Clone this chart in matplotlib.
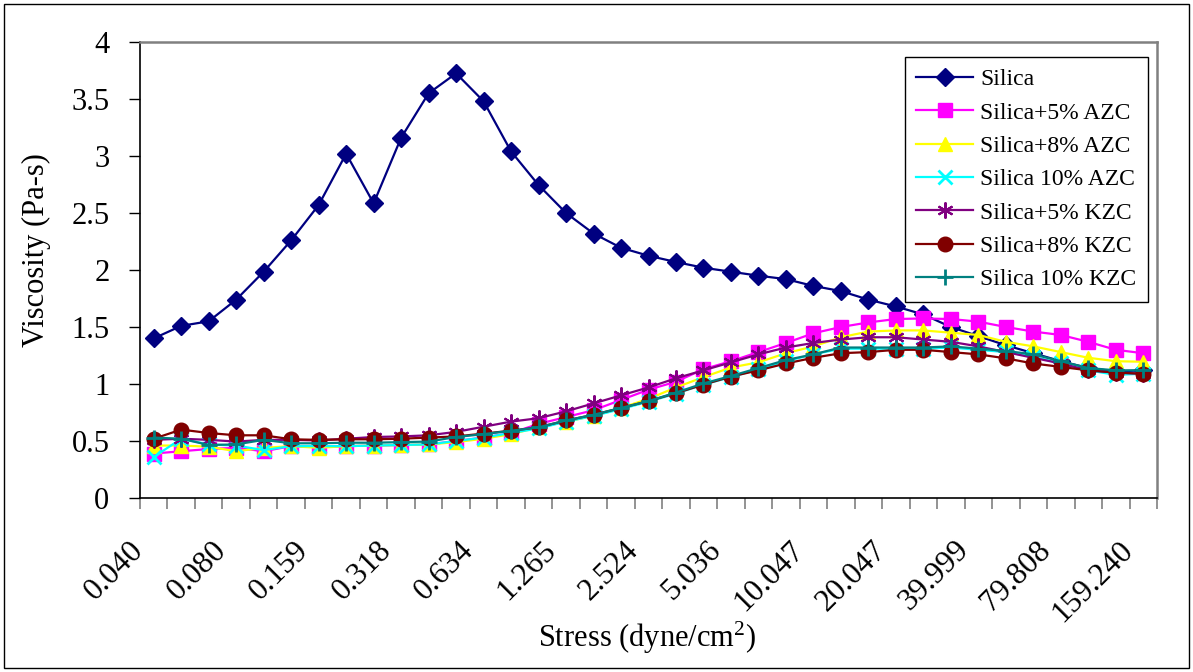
import numpy as np
import matplotlib
matplotlib.use('Agg')
import matplotlib.pyplot as plt
from matplotlib.patches import Rectangle
from matplotlib.transforms import ScaledTranslation

plt.rcParams['font.family'] = ['Liberation Serif', 'DejaVu Serif']
plt.rcParams['mathtext.fontset'] = 'custom'
plt.rcParams['mathtext.rm'] = 'Liberation Serif'
plt.rcParams['mathtext.it'] = 'Liberation Serif:italic'

# stress labels shown on every third category (dyne/cm2)
stress_labels = ['0.040', '0.080', '0.159', '0.318', '0.634', '1.265', '2.524',
                 '5.036', '10.047', '20.047', '39.999', '79.808', '159.240']

# viscosity (Pa-s) at each of the 37 stress steps
silica = [1.40, 1.51, 1.55, 1.74, 1.985, 2.26, 2.57, 3.02, 2.585, 3.16, 3.55, 3.725,
          3.48, 3.04, 2.745, 2.50, 2.32, 2.195, 2.125, 2.07, 2.02, 1.985, 1.95, 1.92,
          1.86, 1.815, 1.74, 1.68, 1.61, 1.50, 1.42, 1.34, 1.27, 1.20, 1.14, 1.11, 1.12]
azc5 = [0.39, 0.41, 0.43, 0.44, 0.41, 0.455, 0.445, 0.455, 0.46, 0.465, 0.47, 0.50,
        0.53, 0.57, 0.65, 0.71, 0.77, 0.86, 0.95, 1.02, 1.13, 1.20, 1.28, 1.36,
        1.445, 1.50, 1.54, 1.57, 1.575, 1.57, 1.547, 1.50, 1.46, 1.43, 1.37, 1.30, 1.27]
azc8 = [0.46, 0.46, 0.45, 0.41, 0.44, 0.455, 0.44, 0.455, 0.46, 0.465, 0.47, 0.49,
        0.52, 0.56, 0.62, 0.67, 0.72, 0.79, 0.87, 0.97, 1.06, 1.145, 1.19, 1.27,
        1.33, 1.41, 1.46, 1.47, 1.47, 1.45, 1.43, 1.37, 1.33, 1.28, 1.23, 1.20, 1.195]
azc10 = [0.36, 0.52, 0.47, 0.46, 0.42, 0.455, 0.455, 0.455, 0.46, 0.465, 0.47, 0.50,
         0.53, 0.57, 0.61, 0.67, 0.72, 0.78, 0.845, 0.915, 0.995, 1.06, 1.13, 1.20,
         1.26, 1.31, 1.31, 1.31, 1.31, 1.32, 1.30, 1.28, 1.24, 1.18, 1.12, 1.08, 1.09]
kzc5 = [0.51, 0.52, 0.51, 0.495, 0.51, 0.51, 0.505, 0.52, 0.535, 0.54, 0.55, 0.58,
        0.625, 0.67, 0.70, 0.76, 0.83, 0.90, 0.97, 1.05, 1.12, 1.19, 1.26, 1.32,
        1.36, 1.39, 1.41, 1.41, 1.39, 1.37, 1.33, 1.28, 1.23, 1.18, 1.12, 1.10, 1.09]
kzc8 = [0.52, 0.60, 0.57, 0.55, 0.55, 0.515, 0.51, 0.515, 0.515, 0.52, 0.53, 0.54,
        0.565, 0.59, 0.62, 0.68, 0.73, 0.79, 0.85, 0.92, 0.995, 1.065, 1.12, 1.18,
        1.23, 1.27, 1.28, 1.30, 1.30, 1.28, 1.26, 1.225, 1.18, 1.15, 1.12, 1.10, 1.09]
kzc10 = [0.53, 0.52, 0.465, 0.47, 0.51, 0.48, 0.48, 0.485, 0.485, 0.49, 0.495, 0.535,
         0.56, 0.59, 0.62, 0.68, 0.73, 0.79, 0.85, 0.925, 1.005, 1.07, 1.14, 1.21,
         1.26, 1.32, 1.32, 1.32, 1.32, 1.33, 1.31, 1.29, 1.26, 1.20, 1.14, 1.12, 1.12]

# (label, values, colour, marker, marker size, marker edge width)
series = [
    ('Silica', silica, '#000080', 'D', 9, 1),
    ('Silica+5% AZC', azc5, '#FF00FF', 's', 9.5, 1),
    ('Silica+8% AZC', azc8, '#FFFF00', '^', 10.5, 1),
    ('Silica 10% AZC', azc10, '#00FFFF', 'x', 9.5, 2),
    ('Silica+5% KZC', kzc5, '#800080', (6, 2, 0), 11.5, 1.5),
    ('Silica+8% KZC', kzc8, '#800000', 'o', 10.5, 1),
    ('Silica 10% KZC', kzc10, '#008080', '+', 12, 2),
]

W, H = 1193, 672
fig = plt.figure(figsize=(W / 100, H / 100), dpi=100)
ax = fig.add_axes([140 / W, 1 - 498 / H, 1017 / W, 456 / H])

x = np.arange(len(silica))
for i, (label, vals, color, marker, ms, mew) in enumerate(series):
    ax.plot(x, vals, color=color, lw=1.6, marker=marker, ms=ms, mfc=color,
            mec=color, mew=mew, label=label, zorder=3 + i)

ax.set_xlim(-0.5, len(x) - 0.5)
ax.set_ylim(0, 4)

yt = np.arange(0, 4.01, 0.5)
ax.set_yticks(yt)
ax.set_yticklabels([f'{v:g}' for v in yt])
ax.tick_params(axis='y', direction='out', length=8, width=1, pad=14, labelsize=22)

# category axis: boundary tick marks, labels on every third category
ax.set_xticks(range(0, len(x), 3))
ax.set_xticklabels(stress_labels, rotation=45, ha='right', va='top', fontsize=22.5)
ax.set_xticks(np.arange(-0.5, len(x), 1), minor=True)
ax.tick_params(axis='x', which='major', length=0, pad=27)
ax.tick_params(axis='x', which='minor', direction='out', length=8, width=1.2, color='#808080')
shift = ScaledTranslation(-4 / 100, 0, fig.dpi_scale_trans)
for lbl in ax.get_xticklabels():
    lbl.set_transform(lbl.get_transform() + shift)

for side in ['top', 'right']:
    ax.spines[side].set_color('#808080')
    ax.spines[side].set_linewidth(1.8)
for side in ['left', 'bottom']:
    ax.spines[side].set_color('black')
    ax.spines[side].set_linewidth(1.2)

ax.set_ylabel('Viscosity (Pa-s)', fontsize=22)
ax.yaxis.set_label_coords(-0.088, 0.544)
fig.text(647 / W, 1 - 638 / H, 'Stress (dyne/cm$^2$)', ha='center', va='center', fontsize=22)

leg = ax.legend(loc='upper right', bbox_to_anchor=(1148 / W, 1 - 57 / H),
                bbox_transform=fig.transFigure, fontsize=17, fancybox=False,
                edgecolor='black', framealpha=1, borderaxespad=0, borderpad=0.5,
                handlelength=2.4, handletextpad=0.3, labelspacing=0.5)
leg.get_frame().set_linewidth(1)
leg.set_zorder(20)

# thin frame round the whole chart
fig.patches.append(Rectangle((4 / W, 4 / H), 1185 / W, 664 / H, transform=fig.transFigure,
                             fill=False, ec='black', lw=1))

fig.savefig('out.png', dpi=100)
